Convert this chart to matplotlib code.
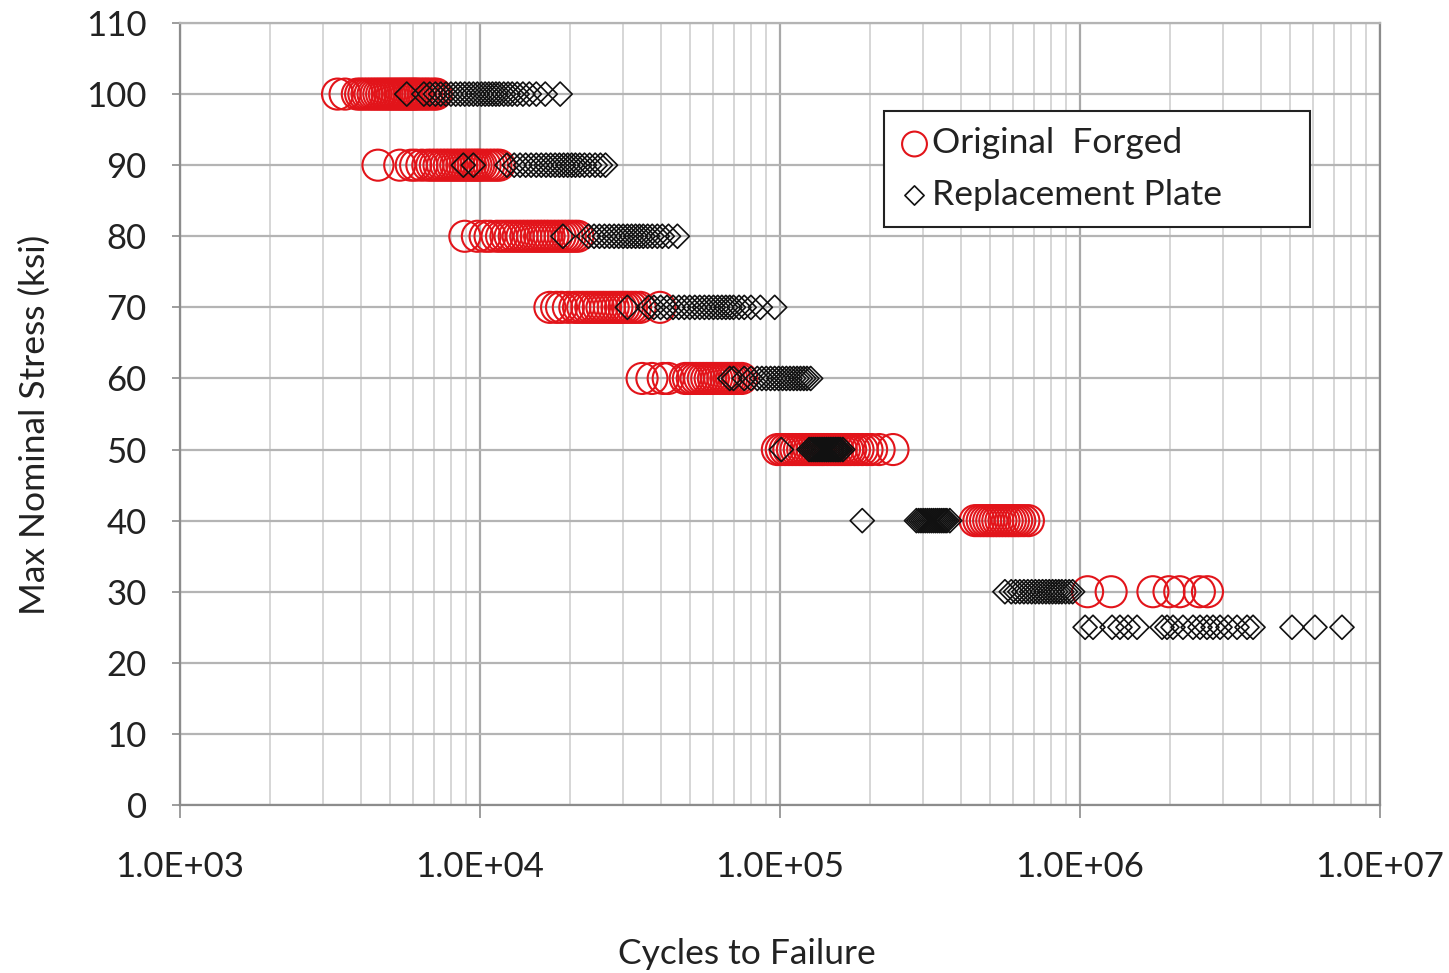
import matplotlib
matplotlib.use("Agg")
import matplotlib.pyplot as plt
import numpy as np

plt.rcParams['font.family'] = ['Lato', 'DejaVu Sans']

# --- data: cycles to failure at each max nominal stress level (ksi) ---
stress_levels = [100, 90, 80, 70, 60, 50, 40, 30, 25]

orig_cycles = {
    100: [3350, 3550, 3900, 4000, 4100, 4200, 4300, 4400, 4500, 4600, 4700, 4800,
          4900, 5000, 5100, 5200, 5300, 5400, 5500, 5600, 5700, 5800, 5900, 6000,
          6100, 6200, 6350, 6500, 6650, 6800, 7000, 7150],
    90: [4570, 5400, 5900, 6100, 6400, 6700, 6900, 7100, 7300, 7500, 7700, 7900,
         8100, 8300, 8500, 8700, 8900, 9100, 9300, 9500, 9700, 9900, 10100, 10400,
         10700, 11000, 11300, 11600],
    80: [8900, 9800, 10400, 10800, 11400, 11800, 12200, 12600, 13000, 13400, 13800,
         14200, 14600, 15000, 15400, 15800, 16200, 16600, 17000, 17500, 18000,
         18500, 19000, 19500, 20000, 20600, 21200],
    70: [17100, 18000, 18700, 19700, 20700, 21300, 22000, 22700, 23400, 24100,
         24800, 25500, 26200, 27000, 27800, 28600, 29400, 30200, 31000, 32000,
         33000, 34200, 39800],
    60: [34700, 37400, 40800, 42400, 48300, 49500, 51000, 52500, 54000, 55500,
         57000, 58500, 60000, 61500, 63000, 64500, 66000, 67500, 69000, 70500,
         72500, 74600],
    50: [98000, 101000, 104000, 107000, 110000, 113000, 116000, 119000, 122000,
         125000, 128000, 131000, 134000, 137000, 140000, 144000, 148000, 152000,
         156000, 160000, 164000, 168000, 172000, 177000, 182000, 188000, 195000,
         202000, 214000, 238000],
    40: [447000, 460000, 472000, 484000, 496000, 508000, 520000, 532000, 545000,
         558000, 572000, 586000, 600000, 615000, 630000, 650000, 673000],
    30: [1060000, 1270000, 1750000, 1980000, 2150000, 2500000, 2660000],
    25: [],
}

repl_cycles = {
    100: [5700, 6500, 6800, 7100, 7400, 7700, 8000, 8300, 8600, 8900, 9200, 9500,
          9800, 10100, 10400, 10700, 11000, 11300, 11600, 12000, 12400, 12800,
          13300, 13900, 14600, 15400, 16500, 18500],
    90: [8800, 9500, 12300, 13000, 13600, 14200, 14800, 15400, 16000, 16600, 17200,
         17800, 18400, 19000, 19600, 20200, 20800, 21500, 22300, 23200, 24200,
         25200, 26200],
    80: [18900, 23000, 24000, 25000, 26000, 27000, 28000, 29000, 30000, 31000,
         32000, 33000, 34000, 35000, 36200, 37500, 39000, 40500, 42500, 45500],
    70: [31000, 36500, 38000, 40000, 42000, 44000, 46000, 48000, 50000, 52000,
         54000, 56000, 58000, 60000, 62000, 64000, 66000, 68000, 70000, 73000,
         76000, 80000, 86000, 96000],
    60: [68000, 70000, 76000, 80000, 84000, 87000, 90000, 93000, 96000, 99000,
         102000, 105000, 108000, 111000, 114000, 117000, 120000, 123000, 126500],
    50: [101000, 125000, 127000, 129000, 131000, 133000, 135000, 137000, 139000,
         141000, 143000, 145000, 147000, 149000, 151000, 153000, 155000, 157000,
         159000, 162000],
    40: [188000, 285000, 290000, 295000, 300000, 305000, 310000, 315000, 320000,
         325000, 330000, 335000, 340000, 345000, 350000, 355000, 360000, 368000],
    30: [562000, 590000, 610000, 630000, 650000, 670000, 690000, 710000, 730000,
         750000, 770000, 790000, 810000, 830000, 850000, 870000, 895000, 920000,
         945000],
    25: [1040000, 1105000, 1279000, 1359000, 1445000, 1549000, 1877000, 1950000,
         2042000, 2204000, 2381000, 2512000, 2650000, 2776000, 2929000, 3114000,
         3337000, 3604000, 3774000, 5090000, 6070000, 7470000],
}

y_ticks = list(range(0, 111, 10))
x_ticks = [1e3, 1e4, 1e5, 1e6, 1e7]
x_tick_labels = ['1.0E+03', '1.0E+04', '1.0E+05', '1.0E+06', '1.0E+07']

orig_x = [c for s in stress_levels for c in orig_cycles[s]]
orig_y = [s for s in stress_levels for c in orig_cycles[s]]
repl_x = [c for s in stress_levels for c in repl_cycles[s]]
repl_y = [s for s in stress_levels for c in repl_cycles[s]]

W, H = 1449, 973
fig = plt.figure(figsize=(W / 100, H / 100), dpi=100)
ax = fig.add_axes([180 / W, 1 - 805 / H, 1200 / W, 782 / H])

red = '#e2141a'
ax.scatter(orig_x, orig_y, s=500, marker='o', facecolors='none',
           edgecolors=red, linewidths=1.5, label='Original  Forged', zorder=3)
ax.scatter(repl_x, repl_y, s=150, marker='D', facecolors='none',
           edgecolors='#111111', linewidths=1.2, label='Replacement Plate', zorder=4)

ax.set_xscale('log')
ax.set_xlim(1e3, 1e7)
ax.set_ylim(0, 110)
ax.set_yticks(y_ticks)
ax.set_xticks(x_ticks)
ax.set_xticklabels(x_tick_labels)
ax.xaxis.set_minor_formatter(plt.NullFormatter())

ax.grid(True, which='major', axis='y', color='#b4b4b4', linewidth=1.6, zorder=0)
ax.grid(True, which='major', axis='x', color='#a8a8a8', linewidth=1.6, zorder=0)
ax.grid(True, which='minor', axis='x', color='#cfcfcf', linewidth=1.2, zorder=0)
ax.set_axisbelow(True)

for side in ['left', 'bottom', 'right']:
    ax.spines[side].set_color('#8c8c8c')
    ax.spines[side].set_linewidth(1.6)
ax.spines['top'].set_color('#b4b4b4')
ax.spines['top'].set_linewidth(1.6)

ax.tick_params(axis='x', which='major', direction='out', length=9, width=1.2,
               color='#8c8c8c', pad=24, labelsize=25, labelcolor='#222222')
ax.tick_params(axis='x', which='minor', length=0)
ax.tick_params(axis='y', direction='out', length=6, width=1.2, color='#8c8c8c',
               pad=18, labelsize=25, labelcolor='#222222')

fig.text(747 / W, 1 - 964 / H, 'Cycles to Failure', ha='center', va='baseline',
         fontsize=25.5, color='#222222')
fig.text(35 / W, 1 - 425 / H, 'Max Nominal Stress (ksi)', ha='center', va='center',
         rotation=90, fontsize=25.5, color='#222222')

leg = ax.legend(loc='upper left', bbox_to_anchor=(0.587, 0.742, 0.355, 0.145),
                mode='expand', fontsize=25.5,
                frameon=True, fancybox=False, framealpha=1, edgecolor='#222222',
                markerscale=0.8, handletextpad=0.1, handlelength=0.8,
                borderpad=0.45, labelspacing=0.55, borderaxespad=0)
leg.get_frame().set_linewidth(1.5)
for t in leg.get_texts():
    t.set_color('#222222')

fig.savefig('out.png', dpi=100)
